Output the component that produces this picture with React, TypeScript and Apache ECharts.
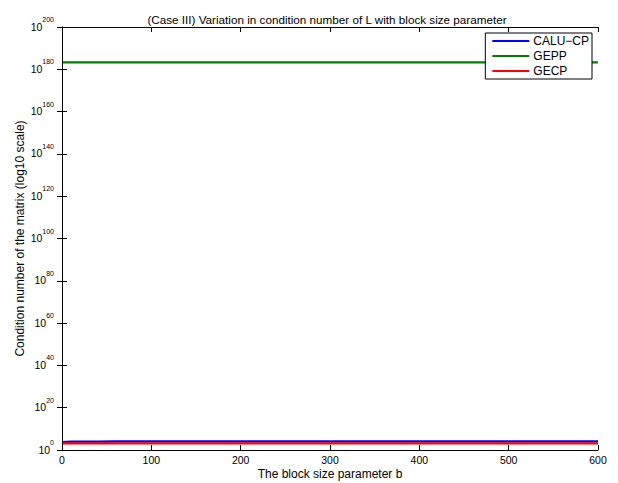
import React, { useEffect, useRef } from "react";
import * as echarts from "echarts";

const blockSizes = [1, 5, 10, 20, 40, 60, 100, 150, 200, 250, 300, 350, 400, 450, 500, 550, 600];
const caluCp = [6e3, 8e3, 9e3, 1e4, 1e4, 1.1e4, 1.1e4, 1.1e4, 1.2e4, 1.2e4, 1.2e4, 1.2e4, 1.2e4, 1.2e4, 1.2e4, 1.2e4, 1.2e4];
const gepp = [2e183, 2e183, 2e183, 2e183, 2e183, 2e183, 2e183, 2e183, 2e183, 2e183, 2e183, 2e183, 2e183, 2e183, 2e183, 2e183, 2e183];
const gecp = [1.5e3, 1.5e3, 1.5e3, 1.5e3, 1.5e3, 1.5e3, 1.5e3, 1.5e3, 1.5e3, 1.5e3, 1.5e3, 1.5e3, 1.5e3, 1.5e3, 1.5e3, 1.5e3, 1.5e3];
const seriesNames = ["CALU\u2212CP", "GEPP", "GECP"];
const seriesColors = ["#0000ff", "#008000", "#ff0000"];

const FONT = "Liberation Sans, Arial, sans-serif";

export default function App() {
  const ref = useRef<HTMLDivElement>(null);
  useEffect(() => {
    document.body.style.margin = "0";
    const chart = echarts.init(ref.current!, null, { renderer: "svg" });
    const pair = (ys: number[]) => blockSizes.map((x, i) => [x, ys[i]]);
    const allData = [caluCp, gepp, gecp];
    const logFmt = (v: number) => {
      const e = Math.round(Math.log10(v));
      return `{b|10}{s|${e}}`;
    };
    const axisLine = { show: true, lineStyle: { color: "#000", width: 1 } };
    const tick = { inside: true, length: 5, lineStyle: { color: "#000" } };
    chart.setOption({
      animation: false,
      backgroundColor: "#fff",
      title: {
        text: "(Case III) Variation in condition number of L with block size parameter",
        left: 322,
        textAlign: "center",
        top: 8,
        textStyle: { fontFamily: FONT, fontSize: 11.7, fontWeight: "normal", color: "#000" },
      },
      legend: {
        right: 26,
        top: 33,
        orient: "vertical",
        backgroundColor: "#fff",
        borderColor: "#000",
        borderWidth: 1,
        borderRadius: 0,
        padding: [2, 3, 2, 7],
        itemGap: 3,
        itemWidth: 37,
        itemHeight: 11.5,
        icon: "path://M0,4.8H37V7.0H0Z",
        textStyle: { fontFamily: FONT, fontSize: 12, color: "#000", padding: [0, 0, 0, -1] },
        data: seriesNames,
      },
      grid: { left: 62, right: 20, top: 27, bottom: 33, outerBoundsMode: "none", containLabel: false },
      xAxis: [
        {
          type: "value",
          min: 0,
          max: 600,
          interval: 100,
          name: "The block size parameter b",
          nameLocation: "middle",
          nameGap: 18,
          nameMoveOverlap: false,
          nameTextStyle: { fontFamily: FONT, fontSize: 12, color: "#000" },
          axisLine,
          axisTick: tick,
          axisLabel: { fontFamily: FONT, fontSize: 10.5, color: "#000", margin: 4 },
          splitLine: { show: false },
        },
        {
          type: "value",
          position: "top",
          min: 0,
          max: 600,
          interval: 100,
          axisLine,
          axisTick: tick,
          axisLabel: { show: false },
          splitLine: { show: false },
        },
      ],
      yAxis: [
        {
          type: "log",
          logBase: 10,
          min: 1,
          max: 1e200,
          interval: 20,
          name: "Condition number of the matrix (log10 scale)",
          nameLocation: "middle",
          nameGap: 36,
          nameMoveOverlap: false,
          nameTextStyle: { fontFamily: FONT, fontSize: 12, color: "#000" },
          axisLine,
          axisTick: tick,
          axisLabel: {
            formatter: logFmt,
            margin: 8,
            padding: [0, 0, 2, 0],
            rich: {
              b: { fontFamily: FONT, fontSize: 10.5, color: "#000", lineHeight: 12, verticalAlign: "bottom" },
              s: { fontFamily: FONT, fontSize: 7, color: "#000", lineHeight: 8, verticalAlign: "bottom", padding: [0, 0, 9, 0] },
            },
          },
          splitLine: { show: false },
        },
        {
          type: "log",
          logBase: 10,
          position: "right",
          min: 1,
          max: 1e200,
          interval: 20,
          axisLine,
          axisTick: tick,
          axisLabel: { show: false },
          splitLine: { show: false },
        },
      ],
      series: seriesNames.map((name, i) => ({
        name,
        type: "line",
        data: pair(allData[i]),
        showSymbol: false,
        symbol: "none",
        color: seriesColors[i],
        lineStyle: { width: 2.2, color: seriesColors[i] },
      })),
    });
    return () => chart.dispose();
  }, []);
  return <div ref={ref} style={{ width: 618, height: 483 }} />;
}
